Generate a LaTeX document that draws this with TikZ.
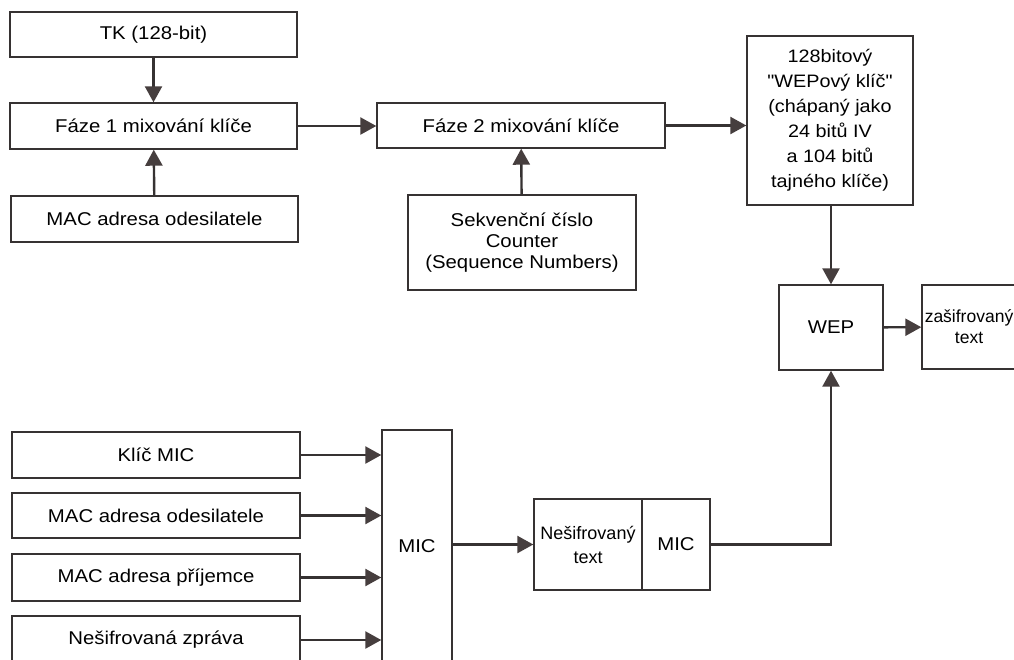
\documentclass[tikz,border=0pt]{standalone}
\usepackage{fontspec}
\newfontfamily\diagfont[FakeStretch=1.1]{Liberation Sans}
\newfontfamily\narrowsans[FakeStretch=1.0]{Liberation Sans}
\usetikzlibrary{arrows.meta}
\definecolor{linegray}{HTML}{363232}
\definecolor{tipgray}{HTML}{463E3E}
\tikzset{
  box/.style={draw=linegray,line width=1.4pt,align=center,inner sep=0pt,
    font=\diagfont\fontsize{18.5}{21}\selectfont},
  arr/.style={draw=linegray,line width=2.4pt,
    -{Triangle[length=16pt,width=17pt,fill=tipgray,color=tipgray]}}
}
\begin{document}
\begin{tikzpicture}[x=1pt,y=-1pt]
  \useasboundingbox (0,0) rectangle (1014,659);
  \clip (0,0) rectangle (1014,659);
  \fill[white] (0,0) rectangle (1014,659);
  % key mixing
  \node[box,minimum width=287pt,minimum height=45pt] (tk) at (153.5,34.5) {TK (128-bit)};
  \node[box,minimum width=287pt,minimum height=46pt] (faze1) at (153.5,126) {Fáze 1 mixování klíče};
  \node[box,minimum width=287pt,minimum height=46pt] (maca) at (154.5,219) {MAC adresa odesilatele};
  \node[box,minimum width=288pt,minimum height=45pt] (faze2) at (521,125.5) {Fáze 2 mixování klíče};
  \node[box,minimum width=228pt,minimum height=95pt] (seq) at (522,242.5)
    {Sekvenční číslo\\Counter\\(Sequence Numbers)};
  \node[box,minimum width=166pt,minimum height=169pt,font=\diagfont\fontsize{18}{25}\selectfont]
    (wepkey) at (830,120.5)
    {128bitový\\"WEPový klíč"\\(chápaný jako\\24 bitů IV\\a 104 bitů\\tajného klíče)};
  \node[box,minimum width=104pt,minimum height=85pt] (wep) at (831,327.5) {WEP};
  \node[box,minimum width=94pt,minimum height=84pt,font=\narrowsans\fontsize{17.5}{21}\selectfont]
    (zas) at (969,327) {zašifrovaný\\text};
  % MIC
  \node[box,minimum width=288pt,minimum height=46pt] (klic) at (156,455) {Klíč MIC};
  \node[box,minimum width=288pt,minimum height=45pt] (macb) at (156,515.5) {MAC adresa odesilatele};
  \node[box,minimum width=288pt,minimum height=47pt] (prij) at (156,577.5) {MAC adresa příjemce};
  \node[box,minimum width=288pt,minimum height=48pt] (zprava) at (156,640) {Nešifrovaná zpráva};
  \node[box,minimum width=70pt,minimum height=232pt] (mic) at (417,546) {MIC};
  \node[box,minimum width=108pt,minimum height=91pt,font=\narrowsans\fontsize{18}{24}\selectfont]
    (nes) at (588,544.5) {Nešifrovaný\\text};
  \node[box,minimum width=68pt,minimum height=91pt] (micb) at (676,544.5) {MIC};
  % arrows
  \draw[arr] (tk) -- (faze1);
  \draw[arr] (maca) -- (faze1);
  \draw[arr] (faze1) -- (faze1.east -| faze2.west);
  \draw[arr] (seq) -- (faze2);
  \draw[arr] (faze2.east) -- (faze2.east -| wepkey.west);
  \draw[arr] (wepkey.south -| wep.north) -- (wep.north);
  \draw[arr] (wep) -- (zas);
  \foreach \n in {klic,macb,prij,zprava}
    \draw[arr] (\n.east) -- (\n.east -| mic.west);
  \draw[arr] (nes.west -| mic.east) -- (nes.west);
  \draw[arr] (micb.east) -| (wep.south);
\end{tikzpicture}
\end{document}
